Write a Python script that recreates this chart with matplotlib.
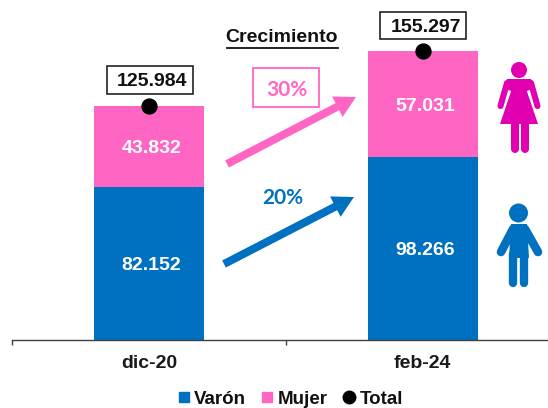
from matplotlib import pyplot as plt
from matplotlib.lines import Line2D
from matplotlib.patches import Circle, Polygon, Rectangle
import matplotlib
matplotlib.use("Agg")

categories = ['dic-20', 'feb-24']
varon = [82152, 98266]
mujer = [43832, 57031]
total = [125984, 155297]
growth_labels = ['20%', '30%']

BLUE = '#0070C0'
PINK = '#FF66C4'
MAGENTA = '#E000B0'

plt.rcParams['font.family'] = ['Liberation Sans', 'DejaVu Sans']


def fmt(v):
    return f'{v:,}'.replace(',', '.')


fig = plt.figure(figsize=(5.48, 4.08), dpi=100)

# axis runs past the right edge of the picture, as in the original
ax = fig.add_axes([12 / 548, (408 - 340) / 408, 547.5 / 548, 340 / 408])
ax.set_xlim(-0.5, 1.5)
ax.set_ylim(0, 155297 * 340 / 289)
ax.patch.set_visible(False)
for s in ['top', 'left', 'right']:
    ax.spines[s].set_visible(False)
ax.spines['bottom'].set_color('#404040')
ax.spines['bottom'].set_linewidth(1)

x = [0, 1]
bars_v = ax.bar(x, varon, width=0.402, color=BLUE, label='Varón')
bars_m = ax.bar(x, mujer, width=0.402, bottom=varon, color=PINK, label='Mujer')
ax.scatter(x, total, s=115, color='black', zorder=5, label='Total', clip_on=False)

for bars, vals in [(bars_v, varon), (bars_m, mujer)]:
    labs = ax.bar_label(bars, labels=[fmt(v) for v in vals], label_type='center',
                        color='white', fontsize=14, fontweight='bold')
    for t in labs:
        t.set_va('center_baseline')
        t.xyann = (2, 0)

for xi, t in zip(x, total):
    ax.annotate(fmt(t), (xi, t), xytext=(3, 26), textcoords='offset pixels',
                ha='center', va='center_baseline', fontsize=14, fontweight='bold',
                color='#111111', annotation_clip=False, zorder=6)

ax.set_yticks([])
ax.set_xticks([-0.5, 0.5, 1.5])
ax.set_xticklabels([])
ax.tick_params(axis='x', which='major', length=3.6, width=1, color='#404040', direction='out')
ax.set_xticks(x, minor=True)
ax.set_xticklabels(categories, minor=True, fontsize=14, fontweight='bold', color='#1a1a1a')
ax.tick_params(axis='x', which='minor', length=0, pad=11)

handles = [
    Line2D([], [], ls='', marker='s', ms=6.5, color=BLUE),
    Line2D([], [], ls='', marker='s', ms=6.5, color=PINK),
    Line2D([], [], ls='', marker='o', ms=9, color='black'),
]
fig.legend(handles, ['Varón', 'Mujer', 'Total'], ncol=3, frameon=False,
           loc='center', bbox_to_anchor=(290 / 548, (408 - 399) / 408),
           prop=dict(size=13.5, weight='bold'), handlelength=0.7, handletextpad=0.2,
           columnspacing=0.8, borderpad=0, labelcolor='#111111')

# overlay in picture pixels for the annotations and pictograms
ov = fig.add_axes([0, 0, 1, 1], zorder=10)
ov.set_xlim(0, 548)
ov.set_ylim(408, 0)
ov.axis('off')
ov.patch.set_visible(False)

# frames around the totals
ov.add_patch(Rectangle((107, 66), 86, 28, fc='none', ec='#222222', lw=1.2))
ov.add_patch(Rectangle((380, 12), 86, 27, fc='none', ec='#222222', lw=1.2))

ov.text(282, 37, 'Crecimiento', ha='center', va='center', fontsize=14,
        fontweight='bold', color='#111111')
ov.plot([227, 338], [47.5, 47.5], color='#111111', lw=1.3)


def arrow(x0, y0, x1, y1, color):
    ov.arrow(x0, y0, x1 - x0, y1 - y0, width=8, head_width=23, head_length=21,
             length_includes_head=True, fc=color, ec='none')


arrow(227, 164, 356, 97, PINK)
arrow(224, 264, 354, 197, BLUE)

ov.add_patch(Rectangle((253, 68), 66, 39, fc='white', ec=PINK, lw=1.3))
ov.text(286.5, 89.5, growth_labels[1], ha='center', va='center', color=PINK, fontsize=15,
        fontweight='bold', family='Lato')
ov.text(283, 197.5, growth_labels[0], ha='center', va='center', color=BLUE, fontsize=15,
        fontweight='bold', family='Lato')


def limb(xs, ys, color, w):
    ov.plot(xs, ys, color=color, lw=w, solid_capstyle='round', solid_joinstyle='round')


# mujer
ov.add_patch(Circle((519, 70), 8, fc=MAGENTA, ec='none'))
ov.add_patch(Polygon([(507, 79), (531, 79), (534, 88), (527, 91), (511, 91), (504, 88)],
                     fc=MAGENTA, ec='none'))
ov.add_patch(Polygon([(511.5, 90), (526.5, 90), (538, 124), (500, 124)], fc=MAGENTA, ec='none'))
limb([507, 500.5], [83, 106], MAGENTA, 4.4)
limb([531, 537.5], [83, 106], MAGENTA, 4.4)
limb([515, 515], [122, 149], MAGENTA, 5.8)
limb([524.5, 524.5], [122, 149], MAGENTA, 5.8)

# varon
ov.add_patch(Circle((518.5, 213), 9.5, fc=BLUE, ec='none'))
ov.add_patch(Polygon([(511, 224), (527, 224), (529, 258), (509, 258)], fc=BLUE, ec='none'))
limb([513, 501], [229, 252], BLUE, 6.2)
limb([525, 538], [229, 252], BLUE, 6.2)
limb([513.3, 513.3], [254, 283], BLUE, 6)
limb([524, 524], [254, 283], BLUE, 6)

fig.savefig('out.png', dpi=100)
